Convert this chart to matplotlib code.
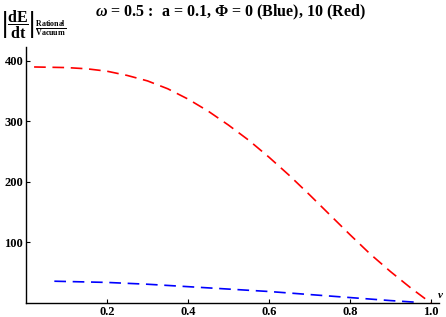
import matplotlib.pyplot as plt
import numpy as np

plt.rcParams['font.family'] = 'Liberation Serif'
plt.rcParams['font.weight'] = 'bold'
plt.rcParams['mathtext.fontset'] = 'custom'
plt.rcParams['mathtext.rm'] = 'Liberation Serif:bold'
plt.rcParams['mathtext.it'] = 'Liberation Serif:italic:bold'
plt.rcParams['mathtext.bf'] = 'Liberation Serif:bold'

# ratio curves
v_red = [0.02, 0.1, 0.15, 0.2, 0.25, 0.3, 0.35, 0.4, 0.45, 0.5, 0.55, 0.6,
         0.65, 0.7, 0.75, 0.8, 0.85, 0.9, 0.95, 1.0]
ratio_red = [390, 389, 387, 383, 376, 367, 354, 337, 317, 294, 269, 241,
             211, 179, 146, 113, 81, 52, 25, 0]

v_blue = [0.07, 0.2, 0.3, 0.4, 0.5, 0.6, 0.7, 0.8, 0.9, 0.97]
ratio_blue = [36, 34, 31, 27, 23, 19, 14, 9, 4, 1]

xticks = [0.2, 0.4, 0.6, 0.8, 1.0]
yticks = [100, 200, 300, 400]

fig = plt.figure(figsize=(4.46, 3.17), dpi=100)
ax = fig.add_axes([26 / 446, 1 - 303 / 317, (439 - 26) / 446, (303 - 47) / 317])

ax.plot(v_red, ratio_red, color='#ff0000', lw=1.2, dashes=(7, 4))
ax.plot(v_blue, ratio_blue, color='#0000ff', lw=1.2, dashes=(7, 4))

ax.set_xlim(0, 1.02)
ax.set_ylim(0, 423)
ax.set_xticks(xticks)
ax.set_xticklabels(['0.2', '0.4', '0.6', '0.8', '1.0'])
ax.set_yticks(yticks)
ax.tick_params(direction='in', length=3, width=0.8, labelsize=9, pad=2)
for s in ['top', 'right']:
    ax.spines[s].set_visible(False)
for s in ['left', 'bottom']:
    ax.spines[s].set_linewidth(1.0)

fig.text(230 / 446, 1 - 12 / 317,
         r'$\omega$ = 0.5 :  a = 0.1, $\Phi$ = 0 (Blue), 10 (Red)',
         ha='center', va='center', fontsize=11.5, fontweight='bold')
fig.text(1 / 446, 1 - 25 / 317,
         r'$\left|\dfrac{\mathrm{dE}}{\mathrm{dt}}\right|_{\frac{\mathrm{Rational}}{\mathrm{Vacuum}}}$',
         ha='left', va='center', fontsize=11.5)
fig.text(437 / 446, 1 - 296 / 317, r'$v$', ha='left', va='center', fontsize=8)

fig.savefig('out.png', dpi=100)
